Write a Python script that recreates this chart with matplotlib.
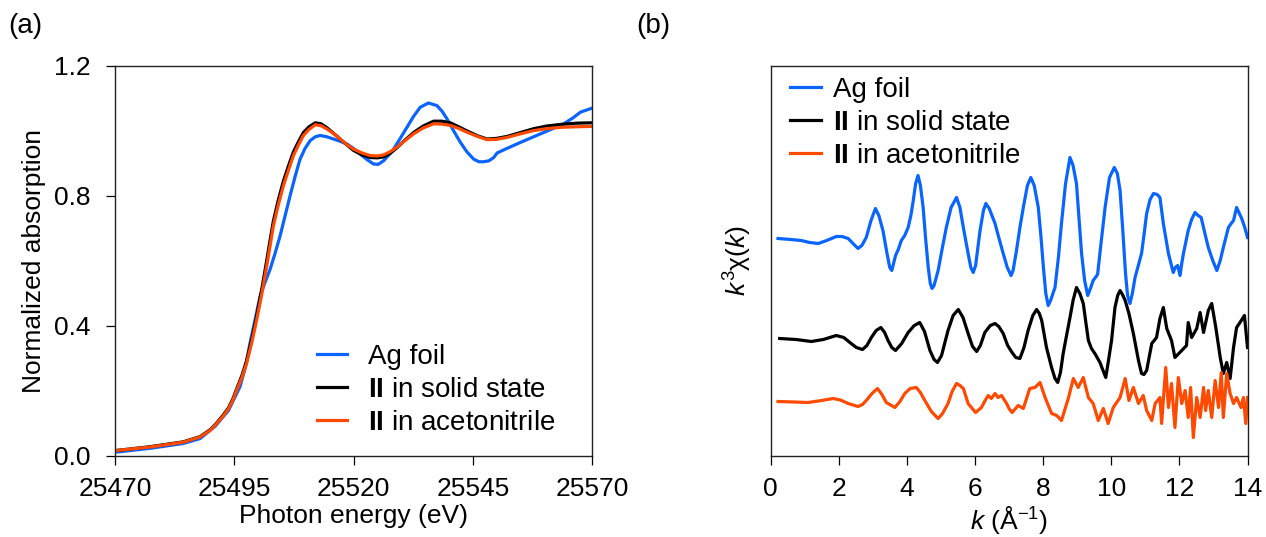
import matplotlib
matplotlib.use("Agg")
import matplotlib.pyplot as plt

plt.rcParams['font.family'] = ['Liberation Sans', 'DejaVu Sans']
plt.rcParams['mathtext.fontset'] = 'custom'
plt.rcParams['mathtext.rm'] = 'Liberation Sans'
plt.rcParams['mathtext.it'] = 'Liberation Sans:italic'
plt.rcParams['mathtext.bf'] = 'Liberation Sans:bold'

# ---------------- Panel (a): XANES ----------------
energy_foil = [25470, 25477.3, 25484.3, 25487.8, 25491.0, 25493.8, 25496.2, 25497.3, 25498.3,
               25499.4, 25500.4, 25501.5, 25502.5, 25503.5, 25504.6, 25505.6, 25506.7, 25507.8,
               25508.8, 25509.8, 25510.9, 25512.0, 25513.0, 25514.4, 25515.8, 25517.2, 25518.6,
               25520.0, 25521.4, 25522.8, 25524.2, 25525.2, 25526.3, 25527.3, 25528.4, 25529.8,
               25531.2, 25532.6, 25534.0, 25535.7, 25537.5, 25538.6, 25539.6, 25541.0, 25542.4,
               25543.8, 25545.2, 25546.3, 25547.3, 25548.4, 25549.4, 25550.1, 25552.0, 25554.3,
               25556.8, 25559.2, 25561.6, 25564.1, 25566.0, 25567.6, 25570]
mu_foil = [0.010, 0.022, 0.037, 0.052, 0.090, 0.139, 0.212, 0.270, 0.346,
           0.420, 0.490, 0.535, 0.573, 0.620, 0.676, 0.735, 0.800, 0.862,
           0.913, 0.945, 0.970, 0.982, 0.986, 0.982, 0.975, 0.968, 0.960,
           0.946, 0.929, 0.912, 0.898, 0.897, 0.908, 0.924, 0.944, 0.977,
           1.011, 1.045, 1.073, 1.086, 1.078, 1.060, 1.037, 1.000, 0.965,
           0.935, 0.913, 0.905, 0.905, 0.908, 0.918, 0.932, 0.945, 0.960,
           0.976, 0.991, 1.006, 1.022, 1.040, 1.058, 1.070]

energy_II = [25470, 25477.3, 25484.3, 25487.8, 25490.0, 25491.3, 25492.6, 25493.8, 25494.7,
             25495.5, 25496.6, 25497.6, 25498.7, 25499.7, 25500.8, 25501.8, 25502.5, 25503.2,
             25504.2, 25505.3, 25506.5, 25507.4, 25508.5, 25509.5, 25510.7, 25512.0, 25513.2,
             25514.4, 25515.8, 25517.2, 25518.6, 25520.0, 25521.8, 25523.5, 25525.0, 25526.3,
             25527.7, 25529.1, 25530.8, 25532.6, 25534.6, 25536.8, 25538.5, 25540.3, 25542.0,
             25543.8, 25546.0, 25548.0, 25550.0, 25552.2, 25555.0, 25557.8, 25560.5, 25563.4,
             25567.0, 25570]
mu_solid = [0.015, 0.027, 0.042, 0.058, 0.080, 0.100, 0.123, 0.147, 0.174,
            0.205, 0.246, 0.292, 0.360, 0.430, 0.515, 0.600, 0.662, 0.722,
            0.785, 0.845, 0.898, 0.935, 0.968, 0.995, 1.013, 1.025, 1.022,
            1.010, 0.993, 0.975, 0.957, 0.940, 0.926, 0.918, 0.917, 0.920,
            0.931, 0.948, 0.972, 0.995, 1.015, 1.030, 1.030, 1.025, 1.013,
            1.000, 0.985, 0.975, 0.977, 0.983, 0.995, 1.007, 1.015, 1.020,
            1.024, 1.025]
mu_acn = [0.015, 0.026, 0.041, 0.057, 0.078, 0.098, 0.120, 0.144, 0.170,
          0.201, 0.240, 0.284, 0.350, 0.418, 0.500, 0.583, 0.645, 0.707,
          0.770, 0.831, 0.885, 0.924, 0.958, 0.986, 1.005, 1.019, 1.016,
          1.006, 0.992, 0.975, 0.958, 0.944, 0.932, 0.924, 0.923, 0.926,
          0.936, 0.950, 0.970, 0.991, 1.009, 1.022, 1.021, 1.017, 1.008,
          0.996, 0.983, 0.973, 0.974, 0.980, 0.991, 1.001, 1.007, 1.011,
          1.013, 1.014]

xanes_xticks = [25470, 25495, 25520, 25545, 25570]
xanes_yticks = [0.0, 0.4, 0.8, 1.2]

# ---------------- Panel (b): EXAFS k^3 chi(k), offset curves ----------------
k_foil = [0.22, 0.60, 0.90, 1.15, 1.40, 1.65, 1.93, 2.10, 2.28, 2.45, 2.57, 2.68, 2.81, 2.95,
          3.08, 3.18, 3.30, 3.42, 3.50, 3.56, 3.62, 3.67, 3.75, 3.84, 3.94, 4.04, 4.12, 4.19,
          4.26, 4.33, 4.40, 4.48, 4.55, 4.63, 4.69, 4.74, 4.80, 4.92, 5.04, 5.16, 5.30, 5.46,
          5.56, 5.66, 5.80, 5.88, 5.95, 6.02, 6.15, 6.25, 6.32, 6.42, 6.59, 6.70, 6.83, 6.95,
          7.06, 7.12, 7.22, 7.32, 7.42, 7.54, 7.64, 7.74, 7.86, 7.94, 8.01, 8.08, 8.15, 8.22,
          8.35, 8.45, 8.54, 8.66, 8.79, 8.88, 8.98, 9.05, 9.13, 9.22, 9.31, 9.40, 9.47, 9.60,
          9.70, 9.82, 9.95, 10.09, 10.18, 10.26, 10.34, 10.42, 10.48, 10.55, 10.62, 10.70,
          10.89, 10.96, 11.04, 11.14, 11.24, 11.35, 11.43, 11.53, 11.68, 11.82, 11.88, 11.95,
          12.02, 12.07, 12.12, 12.26, 12.36, 12.46, 12.55, 12.64, 12.75, 12.85, 12.98, 13.10,
          13.20, 13.29, 13.44, 13.52, 13.59, 13.68, 13.76, 13.83, 13.92, 14.0]
chi_foil = [2.17, 2.16, 2.15, 2.13, 2.12, 2.15, 2.19, 2.19, 2.17, 2.11, 2.07, 2.10, 2.18, 2.35,
            2.47, 2.40, 2.25, 2.02, 1.88, 1.85, 1.93, 2.00, 2.06, 2.15, 2.20, 2.28, 2.40, 2.55,
            2.72, 2.80, 2.70, 2.48, 2.18, 1.88, 1.72, 1.67, 1.70, 1.85, 2.07, 2.28, 2.48, 2.58,
            2.48, 2.28, 2.02, 1.88, 1.83, 1.90, 2.25, 2.45, 2.52, 2.47, 2.32, 2.18, 2.02, 1.88,
            1.80, 1.85, 2.05, 2.28, 2.48, 2.70, 2.78, 2.70, 2.48, 2.18, 1.88, 1.62, 1.50, 1.55,
            1.68, 1.98, 2.32, 2.72, 2.98, 2.90, 2.72, 2.40, 2.02, 1.75, 1.60, 1.68, 1.75, 1.81,
            2.12, 2.48, 2.78, 2.88, 2.82, 2.65, 2.25, 1.82, 1.60, 1.52, 1.62, 1.78,
            2.02, 2.20, 2.42, 2.56, 2.62, 2.61, 2.58, 2.32, 2.02, 1.83, 1.88, 1.90,
            1.80, 1.92, 2.02, 2.25, 2.36, 2.43, 2.40, 2.38, 2.22, 2.08, 1.95, 1.85,
            1.95, 2.08, 2.28, 2.32, 2.35, 2.48, 2.42, 2.37, 2.28, 2.18]

k_solid = [0.27, 0.75, 1.20, 1.55, 1.93, 2.15, 2.33, 2.52, 2.70, 2.83, 2.96, 3.10, 3.24, 3.35,
           3.45, 3.56, 3.67, 3.85, 4.04, 4.22, 4.38, 4.52, 4.68, 4.80, 4.90, 5.02, 5.21, 5.36,
           5.51, 5.65, 5.80, 5.93, 6.05, 6.16, 6.29, 6.45, 6.59, 6.70, 6.83, 6.96, 7.09, 7.20,
           7.32, 7.44, 7.56, 7.70, 7.81, 7.89, 7.96, 8.10, 8.25, 8.35, 8.43, 8.51, 8.59, 8.70,
           8.79, 8.88, 8.98, 9.08, 9.18, 9.26, 9.33, 9.42, 9.52, 9.67, 9.76, 9.84, 9.92, 10.01,
           10.11, 10.19, 10.26, 10.33, 10.41, 10.52, 10.65, 10.80, 10.89, 10.96, 11.04, 11.19,
           11.33, 11.43, 11.53, 11.63, 11.77, 11.87, 12.07, 12.21, 12.26, 12.36, 12.51, 12.61,
           12.71, 12.85, 12.95, 13.07, 13.20, 13.29, 13.39, 13.49, 13.59, 13.68, 13.78, 13.91,
           14.0]
chi_solid = [1.17, 1.16, 1.14, 1.16, 1.20, 1.18, 1.13, 1.08, 1.06, 1.10, 1.18, 1.25, 1.28, 1.23,
             1.15, 1.08, 1.05, 1.12, 1.23, 1.30, 1.33, 1.24, 1.05, 0.96, 0.93, 1.00, 1.25, 1.40,
             1.46, 1.38, 1.22, 1.09, 1.04, 1.10, 1.23, 1.30, 1.32, 1.29, 1.22, 1.10, 1.03, 0.98,
             0.97, 1.08, 1.25, 1.40, 1.46, 1.42, 1.35, 1.08, 0.88, 0.77, 0.73, 0.83, 1.02, 1.22,
             1.38, 1.55, 1.68, 1.62, 1.52, 1.32, 1.15, 1.07, 1.02, 0.93, 0.85, 0.78, 0.95, 1.15,
             1.48, 1.60, 1.65, 1.61, 1.55, 1.42, 1.22, 0.95, 0.82, 0.81, 0.85, 1.12,
             1.18, 1.37, 1.48, 1.27, 1.15, 0.98, 1.05, 1.10, 1.33, 1.18, 1.27, 1.43,
             1.23, 1.45, 1.52, 1.28, 0.98, 0.82, 0.93, 0.77, 1.08, 1.28, 1.33, 1.40,
             1.08]

k_acn = [0.22, 0.70, 1.10, 1.50, 1.84, 2.05, 2.28, 2.57, 2.70, 2.81, 2.98, 3.14, 3.27, 3.40,
         3.65, 3.80, 3.94, 4.10, 4.28, 4.40, 4.53, 4.72, 4.92, 5.05, 5.21, 5.33, 5.46, 5.56,
         5.66, 5.80, 6.02, 6.19, 6.30, 6.39, 6.48, 6.59, 6.68, 6.78, 6.93, 7.00, 7.09, 7.27,
         7.42, 7.61, 7.76, 7.91, 8.06, 8.25, 8.40, 8.54, 8.74, 8.89, 9.03, 9.18, 9.33, 9.47,
         9.62, 9.77, 9.91, 10.06, 10.26, 10.41, 10.52, 10.65, 10.80, 10.94, 11.04, 11.19,
         11.29, 11.43, 11.48, 11.60, 11.68, 11.77, 11.87, 11.97, 12.07, 12.17, 12.26, 12.33,
         12.41, 12.51, 12.61, 12.71, 12.77, 12.85, 12.95, 13.05, 13.15, 13.23, 13.29, 13.39,
         13.49, 13.59, 13.68, 13.81, 13.88, 13.95, 14.0]
chi_acn = [0.54, 0.535, 0.53, 0.55, 0.57, 0.555, 0.52, 0.49, 0.51, 0.55, 0.62, 0.67, 0.61, 0.53,
           0.48, 0.54, 0.62, 0.67, 0.68, 0.63, 0.55, 0.44, 0.37, 0.42, 0.52, 0.64, 0.72, 0.70,
           0.67, 0.52, 0.43, 0.48, 0.55, 0.60, 0.57, 0.62, 0.58, 0.60, 0.52, 0.47, 0.43, 0.50,
           0.47, 0.67, 0.68, 0.73, 0.58, 0.42, 0.40, 0.35, 0.57, 0.77, 0.68, 0.78, 0.58, 0.52,
           0.35, 0.47, 0.32, 0.48, 0.58, 0.77, 0.55, 0.68, 0.52, 0.60, 0.45, 0.35,
           0.52, 0.58, 0.32, 0.88, 0.48, 0.72, 0.28, 0.78, 0.52, 0.65, 0.38, 0.68,
           0.18, 0.58, 0.38, 0.68, 0.45, 0.65, 0.38, 0.75, 0.48, 0.83, 0.38, 0.82,
           0.62, 0.52, 0.58, 0.48, 0.58, 0.32, 0.58]

k_ticks = [0, 2, 4, 6, 8, 10, 12, 14]

labels = ["Ag foil", r"$\mathbf{II}$ in solid state", r"$\mathbf{II}$ in acetonitrile"]
colors = ["#0A64FF", "#000000", "#FF4A00"]

FS = 19
FS_LEG = 20
W, H = 1266, 537
fig = plt.figure(figsize=(W / 100, H / 100), dpi=100)

ax_top, ax_bot = 66, 455.5
axA = fig.add_axes([115 / W, 1 - ax_bot / H, 477 / W, (ax_bot - ax_top) / H])
axB = fig.add_axes([770.5 / W, 1 - ax_bot / H, 477 / W, (ax_bot - ax_top) / H])

lw = 2.3
axA.plot(energy_foil, mu_foil, color=colors[0], lw=lw, label=labels[0])
axA.plot(energy_II, mu_solid, color=colors[1], lw=lw, label=labels[1])
axA.plot(energy_II, mu_acn, color=colors[2], lw=lw, label=labels[2])
axA.set_xlim(25470, 25570)
axA.set_ylim(0, 1.2)
axA.set_xticks(xanes_xticks)
axA.set_yticks(xanes_yticks)
axA.set_yticklabels([f"{v:.1f}" for v in xanes_yticks])
axA.set_xlabel("Photon energy (eV)", fontsize=FS, labelpad=2)
axA.set_ylabel("Normalized absorption", fontsize=FS, labelpad=6)
axA.tick_params(axis='x', direction='out', length=6.5, width=0.9, labelsize=FS, pad=9)
axA.tick_params(axis='y', direction='out', length=6.5, width=0.9, labelsize=FS, pad=11)
axA.legend(loc='lower left', bbox_to_anchor=(0.423, 0.051), frameon=False, fontsize=FS_LEG,
           handlelength=1.1, handletextpad=0.75, labelspacing=0.25, borderpad=0, borderaxespad=0)

axB.plot(k_foil, chi_foil, color=colors[0], lw=lw, label=labels[0])
axB.plot(k_solid, chi_solid, color=colors[1], lw=lw, label=labels[1])
axB.plot(k_acn, chi_acn, color=colors[2], lw=lw, label=labels[2])
axB.set_xlim(0, 14)
axB.set_ylim(0, 3.895)
axB.set_xticks(k_ticks)
axB.set_yticks([])
axB.set_xlabel(r"$k$ (Å$^{\mathregular{-1}}$)", fontsize=FS, labelpad=2)
axB.set_ylabel(r"$k^3$χ($k$)", fontsize=FS, labelpad=12)
axB.tick_params(axis='x', direction='out', length=6.5, width=0.9, labelsize=FS, pad=9)
axB.legend(loc='upper left', bbox_to_anchor=(0.041, 0.972), frameon=False, fontsize=FS_LEG,
           handlelength=1.1, handletextpad=0.45, labelspacing=0.25, borderpad=0, borderaxespad=0)

for ax in (axA, axB):
    for s in ax.spines.values():
        s.set_linewidth(1.0)
        s.set_color('#222222')

fig.text(8 / W, 1 - 26 / H, "(a)", fontsize=FS + 1, va='center', ha='left')
fig.text(636 / W, 1 - 26 / H, "(b)", fontsize=FS + 1, va='center', ha='left')

fig.savefig("out.png", dpi=100)
